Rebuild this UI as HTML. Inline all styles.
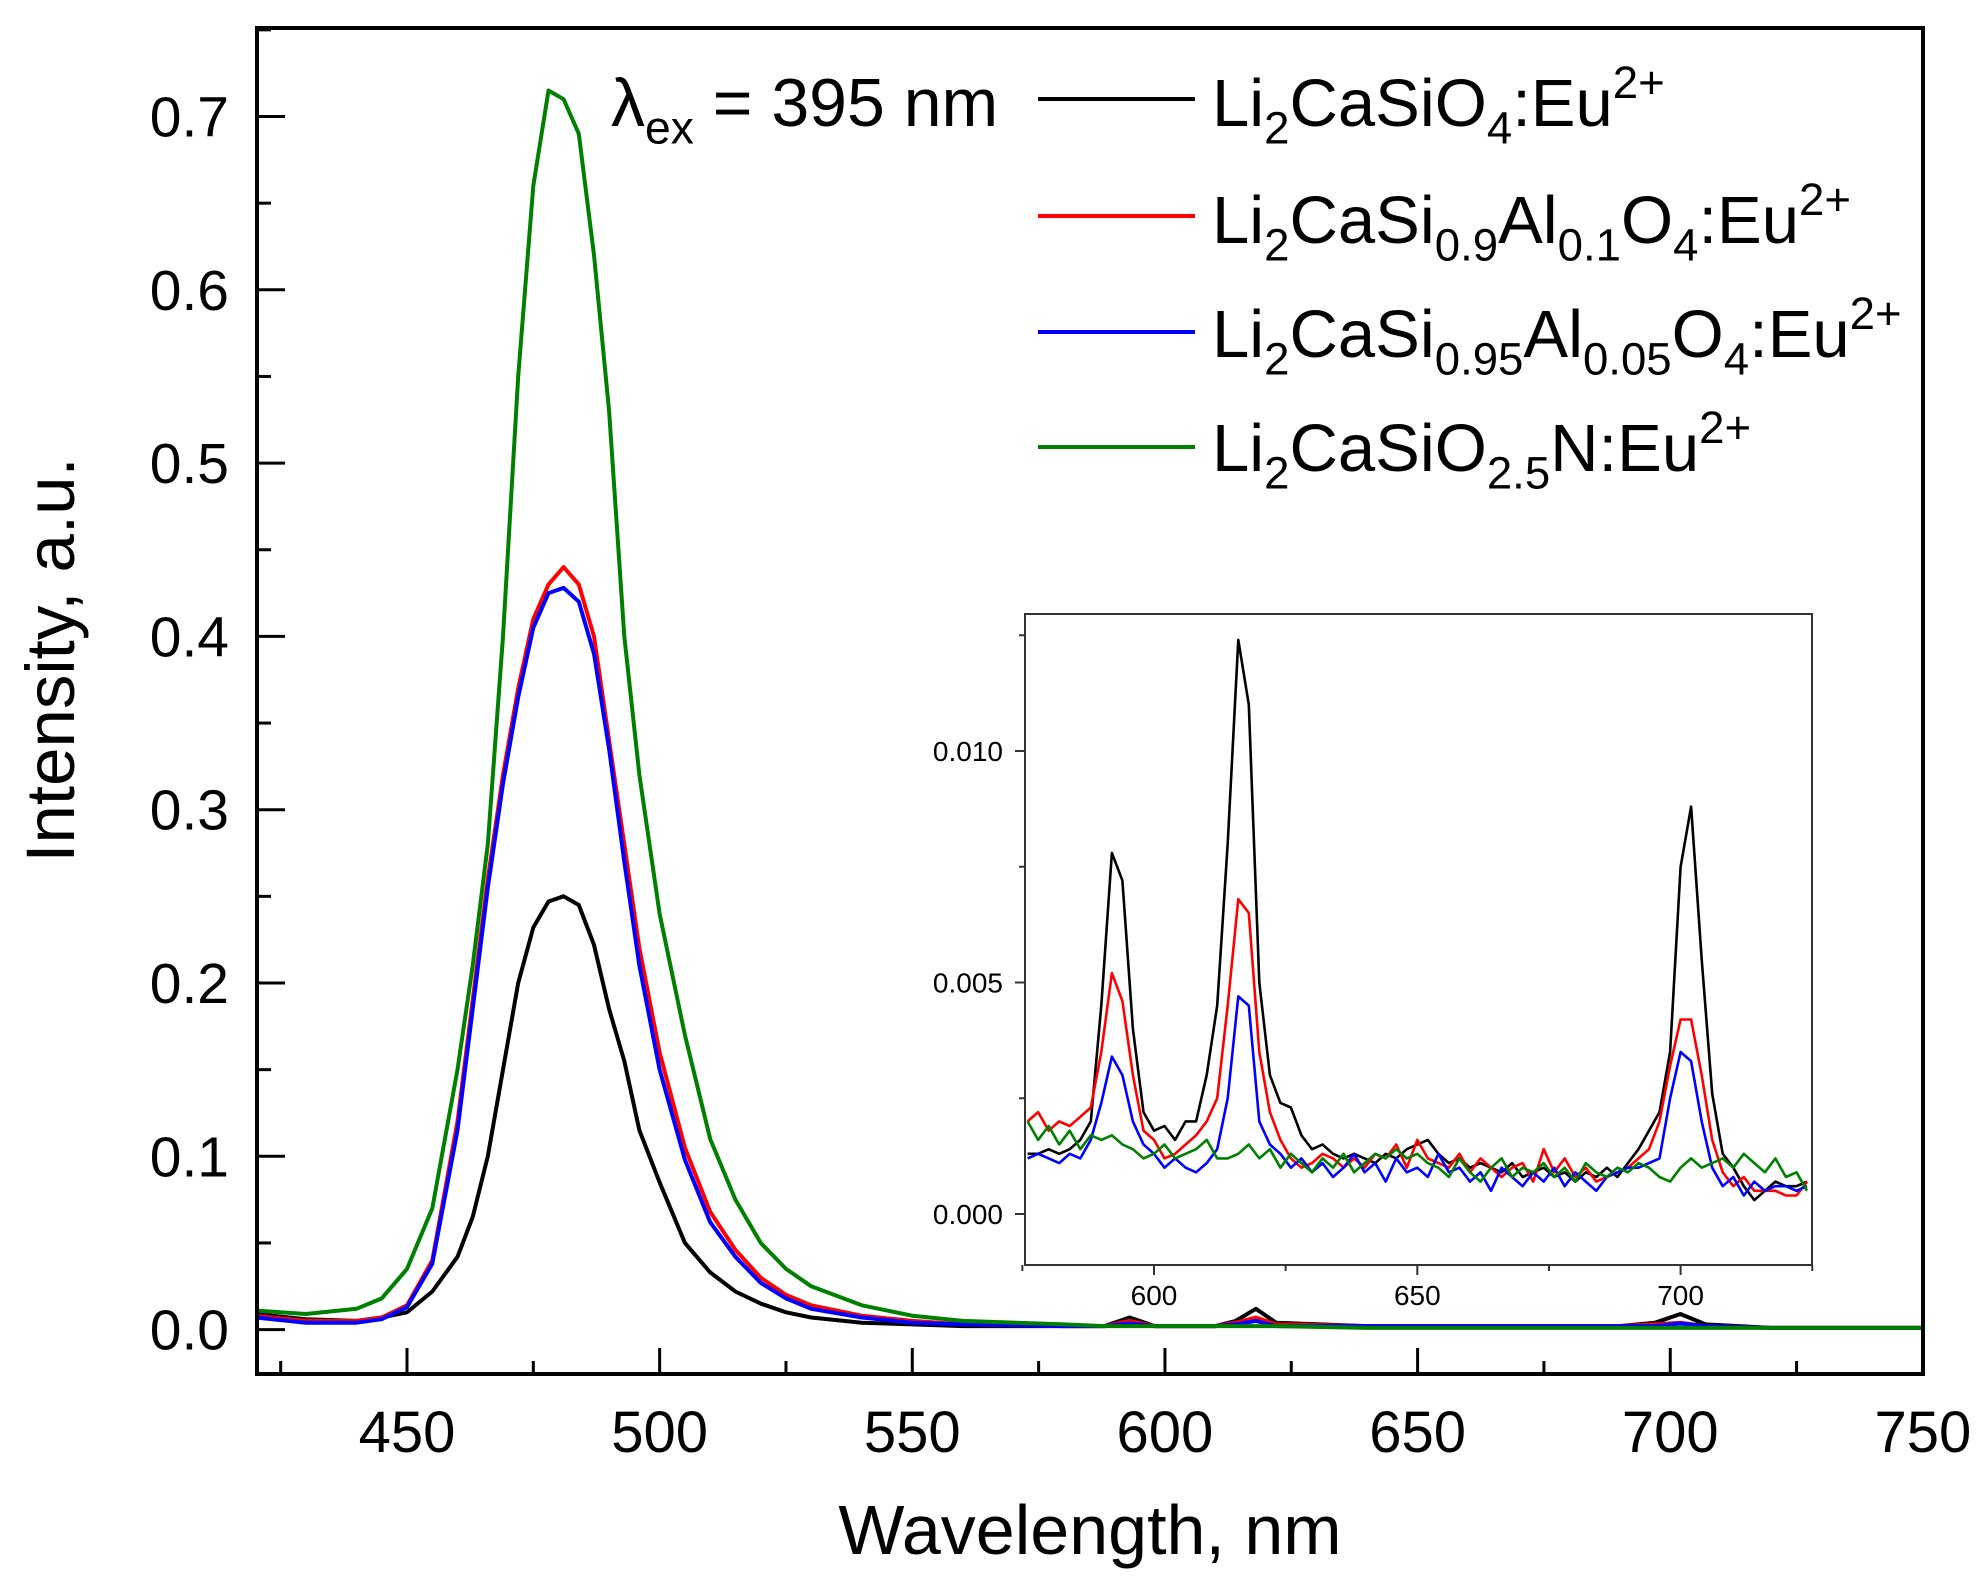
<!DOCTYPE html>
<html><head><meta charset="utf-8"><style>
html,body{margin:0;padding:0;background:#fff;}
body{width:1983px;height:1584px;position:relative;overflow:hidden;font-family:"Liberation Sans",Arial,sans-serif;}
svg{position:absolute;left:0;top:0;}
.lg{position:absolute;font-size:67px;color:#000;white-space:nowrap;line-height:1;}
.lg sub{font-size:0.68em;vertical-align:-0.38em;line-height:0;}
.lg sup{font-size:0.68em;vertical-align:0.62em;line-height:0;}
</style></head><body>
<svg id="chart" width="1983" height="1584" xmlns="http://www.w3.org/2000/svg"></svg>
<div class="lg" style="left:611px;top:69px;font-size:68px;">λ<sub>ex</sub> = 395 nm</div>
<div class="lg" style="left:1212px;top:70px;">Li<sub>2</sub>CaSiO<sub>4</sub>:Eu<sup>2+</sup></div>
<div class="lg" style="left:1212px;top:187px;">Li<sub>2</sub>CaSi<sub>0.9</sub>Al<sub>0.1</sub>O<sub>4</sub>:Eu<sup>2+</sup></div>
<div class="lg" style="left:1212px;top:301px;">Li<sub>2</sub>CaSi<sub>0.95</sub>Al<sub>0.05</sub>O<sub>4</sub>:Eu<sup>2+</sup></div>
<div class="lg" style="left:1212px;top:415px;">Li<sub>2</sub>CaSiO<sub>2.5</sub>N:Eu<sup>2+</sup></div>
<script>
const wl=[420,430,440,445,450,455,460,463,466,469,472,475,478,481,484,487,490,493,496,500,505,510,515,520,525,530,540,550,560,580,588,593,598,610,614,618,622,640,660,690,697,702,707,720,750];
const blackVals=[.009,.006,.005,.007,.01,.022,.042,.065,.10,.15,.20,.232,.247,.25,.245,.222,.185,.155,.115,.085,.05,.033,.022,.015,.01,.007,.004,.003,.002,.002,.002,.007,.002,.002,.005,.012,.004,.002,.002,.002,.004,.009,.003,.001,.001];
const redVals=[.008,.005,.005,.007,.014,.04,.12,.19,.26,.32,.37,.41,.43,.44,.43,.40,.34,.28,.22,.16,.105,.068,.046,.03,.02,.014,.008,.005,.003,.002,.002,.005,.002,.002,.004,.007,.003,.002,.002,.002,.003,.004,.002,.001,.001];
const blueVals=[.007,.004,.004,.006,.013,.038,.115,.185,.255,.315,.365,.405,.425,.428,.42,.39,.335,.27,.21,.15,.098,.062,.042,.027,.018,.012,.007,.004,.003,.002,.002,.0035,.002,.002,.003,.005,.002,.002,.002,.002,.002,.0035,.002,.001,.001];
const greenVals=[.011,.009,.012,.018,.035,.07,.15,.21,.28,.40,.55,.66,.715,.71,.69,.62,.53,.40,.32,.24,.17,.11,.075,.05,.035,.025,.014,.008,.005,.003,.002,.002,.002,.002,.002,.002,.002,.001,.001,.001,.001,.001,.001,.001,.001];
const xTicks=[450,500,550,600,650,700,750];
const yTicks=[0,0.1,0.2,0.3,0.4,0.5,0.6,0.7];
const yTickLabels=["0.0","0.1","0.2","0.3","0.4","0.5","0.6","0.7"];
// inset data (intensity x 1e-3)
const wlI=[576,578,580,582,584,586,588,590,592,594,596,598,600,602,604,606,608,610,612,614,616,618,620,622,624,626,628,630,632,634,636,638,640,642,644,646,648,650,652,654,656,658,660,662,664,666,668,670,672,674,676,678,680,682,684,686,688,690,692,694,696,698,700,702,704,706,708,710,712,714,716,718,720,722,724];
const blackI=[1.3,1.3,1.4,1.3,1.4,1.6,2.0,4.5,7.8,7.2,4.0,2.2,1.8,1.9,1.6,2.0,2.0,3.0,4.5,8.0,12.4,11.0,5.0,3.0,2.4,2.3,1.7,1.4,1.5,1.3,1.2,1.3,1.2,1.1,1.3,1.2,1.4,1.5,1.6,1.3,1.1,1.2,1.0,1.1,1.0,0.9,1.1,0.8,0.9,1.0,0.8,0.9,0.7,0.9,0.8,1.0,0.8,1.1,1.4,1.8,2.2,3.5,7.5,8.8,5.5,2.6,1.3,1.0,0.6,0.3,0.5,0.7,0.6,0.6,0.7];
const redI=[2.0,2.2,1.8,2.0,1.9,2.1,2.3,3.5,5.2,4.6,3.0,1.8,1.6,1.2,1.3,1.5,1.7,2.0,2.5,4.5,6.8,6.5,3.5,2.2,1.6,1.2,1.0,1.1,1.3,1.2,1.0,1.2,1.0,1.3,1.2,1.5,1.0,1.6,1.2,1.1,1.0,1.3,0.9,1.2,1.0,0.8,1.0,1.1,0.7,1.4,0.9,1.2,0.8,1.0,0.7,0.8,0.9,1.0,1.2,1.4,2.0,3.2,4.2,4.2,3.0,1.6,0.9,0.6,0.8,0.5,0.5,0.5,0.4,0.4,0.7];
const blueI=[1.2,1.3,1.2,1.1,1.3,1.2,1.6,2.4,3.4,3.0,2.0,1.5,1.3,1.0,1.2,1.0,0.9,1.1,1.4,2.5,4.7,4.5,2.0,1.5,1.3,1.0,1.2,0.9,1.1,0.8,1.0,1.3,0.9,1.1,0.7,1.2,0.9,1.0,0.8,1.3,0.9,1.0,0.7,0.9,0.5,1.0,0.8,0.6,0.9,0.7,1.0,0.6,0.9,0.7,0.5,0.8,0.9,1.0,1.0,1.1,1.2,2.5,3.5,3.3,2.0,1.0,0.6,0.8,0.4,0.7,0.5,0.6,0.6,0.5,0.6];
const greenI=[2.0,1.6,1.9,1.5,1.8,1.4,1.7,1.6,1.7,1.5,1.4,1.2,1.3,1.5,1.2,1.3,1.4,1.6,1.2,1.2,1.3,1.5,1.2,1.4,1.0,1.3,1.1,0.9,1.2,1.0,1.3,0.9,1.1,1.3,1.2,1.4,1.2,1.3,1.1,1.0,0.8,1.2,0.9,0.7,1.0,1.2,0.8,1.0,0.9,1.1,0.8,1.0,0.7,1.1,0.9,0.8,1.0,0.9,1.1,1.0,0.8,0.7,1.0,1.2,1.0,1.1,1.2,1.0,1.3,1.1,0.9,1.2,0.8,0.9,0.5];
const xTicksI=[600,650,700];
const yTicksI=[0,5,10];
const yTickLabelsI=["0.000","0.005","0.010"];

const NS="http://www.w3.org/2000/svg";
const svg=document.getElementById('chart');
function mk(tag,attrs,parent){const e=document.createElementNS(NS,tag);for(const k in attrs)e.setAttribute(k,attrs[k]);(parent||svg).appendChild(e);return e;}
const L=257,R=1923,T=28,B=1374;
const X=w=>407+(w-450)*5.053;
const Y=v=>1329.6-v*1733;
const defs=mk('defs',{});
const cp=mk('clipPath',{id:'mainclip'},defs);mk('rect',{x:L,y:T,width:R-L,height:B-T},cp);
const cpi=mk('clipPath',{id:'insclip'},defs);

function series(xs,ys,xf,yf,color,name,clip,w){
  let d='';const n=Math.min(xs.length,ys.length);
  for(let i=0;i<n;i++)d+=(i?'L':'M')+xf(xs[i]).toFixed(1)+' '+yf(ys[i]).toFixed(1);
  const p=mk('path',{d:d,fill:'none',stroke:color,'stroke-width':w,'stroke-linejoin':'round','clip-path':'url(#'+clip+')'});
  
  
}
series(wl,blackVals,X,Y,'#000','series-li2casio4','mainclip',4);
series(wl,redVals,X,Y,'#ff0000','series-al01','mainclip',4);
series(wl,blueVals,X,Y,'#0000ff','series-al005','mainclip',4);
series(wl,greenVals,X,Y,'#008000','series-nitride','mainclip',4);

const fr=mk('rect',{x:L,y:T,width:R-L,height:B-T,fill:'none',stroke:'#000','stroke-width':4});

for(let w=425;w<=750;w+=25){
  const major=xTicks.includes(w);
  const t=mk('line',{x1:X(w),x2:X(w),y1:B,y2:B-(major?26:13),stroke:'#000','stroke-width':3});
  
}
xTicks.forEach(w=>{const t=mk('text',{x:X(w),y:1452,'font-size':58,'text-anchor':'middle','font-family':'Liberation Sans, sans-serif'});t.textContent=w;
  });
for(let k=0;k<=15;k++){const v=k*0.05;const major=k%2==0;
  const t=mk('line',{x1:L,x2:L+(major?28:14),y1:Y(v),y2:Y(v),stroke:'#000','stroke-width':3});
  }
yTicks.forEach((v,i)=>{const t=mk('text',{x:229,y:Y(v)+20,'font-size':57,'text-anchor':'end','font-family':'Liberation Sans, sans-serif'});t.textContent=yTickLabels[i];
  });
let t=mk('text',{x:1090,y:1554,'font-size':70,'text-anchor':'middle','font-family':'Liberation Sans, sans-serif'});t.textContent='Wavelength, nm';

t=mk('text',{x:0,y:0,'font-size':69,'text-anchor':'middle','font-family':'Liberation Sans, sans-serif',transform:'translate(74,660) rotate(-90)'});t.textContent='Intensity, a.u.';

[['#000',99],['#ff0000',216],['#0000ff',332],['#008000',447]].forEach((c,i)=>{
  const l=mk('line',{x1:1038,x2:1195,y1:c[1],y2:c[1],stroke:c[0],'stroke-width':4});
  });

const IL=1025,IR=1812,IT=614,IB=1265;
const XI=w=>1154+(w-600)*5.266;
const YI=v=>1214-v*46.3;
mk('rect',{x:IL,y:IT,width:IR-IL,height:IB-IT},cpi);
const ibg=mk('rect',{x:IL,y:IT,width:IR-IL,height:IB-IT,fill:'#fff',stroke:'none'});

series(wlI,blackI,XI,YI,'#000','inset-series-li2casio4','insclip',2.6);
series(wlI,redI,XI,YI,'#ff0000','inset-series-al01','insclip',2.6);
series(wlI,blueI,XI,YI,'#0000ff','inset-series-al005','insclip',2.6);
series(wlI,greenI,XI,YI,'#008000','inset-series-nitride','insclip',2.6);
const ifr=mk('rect',{x:IL,y:IT,width:IR-IL,height:IB-IT,fill:'none',stroke:'#333','stroke-width':2});

for(let w=575;w<=725;w+=25){const major=xTicksI.includes(w);
  const l=mk('line',{x1:XI(w),x2:XI(w),y1:IB,y2:IB+(major?10:6),stroke:'#333','stroke-width':2});
  }
xTicksI.forEach(w=>{const e=mk('text',{x:XI(w),y:1305,'font-size':28,'text-anchor':'middle','font-family':'Liberation Sans, sans-serif'});e.textContent=w;
  });
for(let v=0;v<=12.5;v+=2.5){const major=v%5==0;
  const l=mk('line',{x1:IL,x2:IL-(major?10:6),y1:YI(v),y2:YI(v),stroke:'#333','stroke-width':2});
  }
yTicksI.forEach((v,i)=>{const e=mk('text',{x:1003,y:YI(v)+10,'font-size':28,'text-anchor':'end','font-family':'Liberation Sans, sans-serif'});e.textContent=yTickLabelsI[i];
  });
</script>
</body></html>
